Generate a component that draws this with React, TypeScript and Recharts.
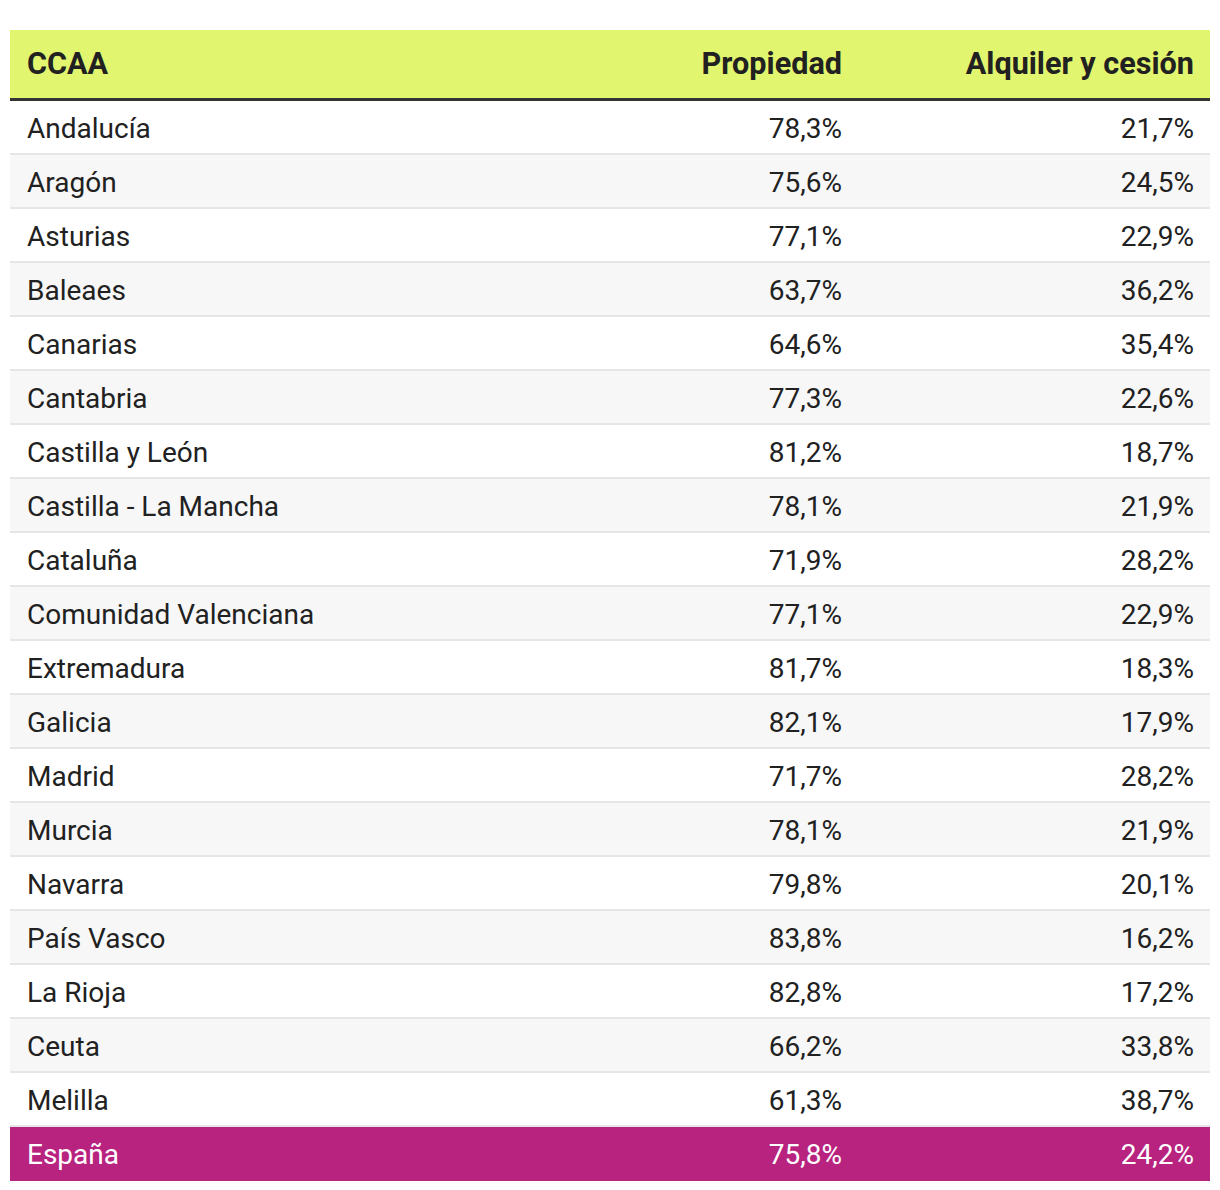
import React from "react";
import { BarChart, Bar, XAxis, YAxis } from "recharts";

const categories = [
  "Andalucía", "Aragón", "Asturias", "Baleaes", "Canarias", "Cantabria",
  "Castilla y León", "Castilla - La Mancha", "Cataluña", "Comunidad Valenciana",
  "Extremadura", "Galicia", "Madrid", "Murcia", "Navarra", "País Vasco",
  "La Rioja", "Ceuta", "Melilla", "España",
];
const propiedad = [78.3, 75.6, 77.1, 63.7, 64.6, 77.3, 81.2, 78.1, 71.9, 77.1, 81.7, 82.1, 71.7, 78.1, 79.8, 83.8, 82.8, 66.2, 61.3, 75.8];
const alquiler = [21.7, 24.5, 22.9, 36.2, 35.4, 22.6, 18.7, 21.9, 28.2, 22.9, 18.3, 17.9, 28.2, 21.9, 20.1, 16.2, 17.2, 33.8, 38.7, 24.2];
const headers = ["CCAA", "Propiedad", "Alquiler y cesión"];
const totalLabel = "España";

const data = categories.map((name, i) => ({
  name,
  propiedad: propiedad[i],
  alquiler: alquiler[i],
  full: 100,
}));

const W = 1204;
const H = 1180;
const M = { top: 93, right: 2, bottom: 7, left: 2 };
const LEFT = M.left;
const RIGHT = W - M.right;
const COL1_X = LEFT + 17;
const COL2_X = 834;
const COL3_X = RIGHT - 16;
const FONT = "Roboto, 'Noto Sans', sans-serif";
const FS = 28;
const HFS = 30.6;
const TEXT = "#212121";
const MAGENTA = "#b7237f";
const HEADER_BG = "#e1f56e";

const fmt = (v: number) => v.toFixed(1).replace(".", ",") + "%";

const RowShape = (props: any) => {
  const { y, height, payload, index } = props;
  const isTotal = payload.name === totalLabel;
  const bg = isTotal ? MAGENTA : index % 2 === 0 ? "#ffffff" : "#f7f7f7";
  const color = isTotal ? "#ffffff" : TEXT;
  const cy = y + height / 2;
  return (
    <g>
      <rect x={LEFT} y={y} width={RIGHT - LEFT} height={height} fill={bg} />
      {!isTotal && (
        <rect x={LEFT} y={y + height - 2} width={RIGHT - LEFT} height={2} fill="#e6e6e6" />
      )}
      <text x={COL1_X} y={cy} dominantBaseline="central" fill={color} fontSize={FS} fontFamily={FONT}>
        {payload.name}
      </text>
      <text x={COL2_X} y={cy} dominantBaseline="central" textAnchor="end" fill={color} fontSize={FS} fontFamily={FONT}>
        {fmt(payload.propiedad)}
      </text>
      <text x={COL3_X} y={cy} dominantBaseline="central" textAnchor="end" fill={color} fontSize={FS} fontFamily={FONT}>
        {fmt(payload.alquiler)}
      </text>
    </g>
  );
};

export default function App() {
  const headerTop = 22;
  const headerBottom = 90;
  const hcy = (headerTop + headerBottom) / 2 - 1;
  return (
    <div style={{ width: W, height: H }}>
      <BarChart
        width={W}
        height={H}
        data={data}
        layout="vertical"
        margin={M}
        barCategoryGap={0}
        barGap={0}
      >
        <XAxis type="number" domain={[0, 100]} hide />
        <YAxis type="category" dataKey="name" hide />
        <Bar dataKey="full" isAnimationActive={false} shape={RowShape} />
        <g>
          <rect x={LEFT} y={headerTop} width={RIGHT - LEFT} height={headerBottom - headerTop} fill={HEADER_BG} />
          <rect x={LEFT} y={headerBottom} width={RIGHT - LEFT} height={3} fill="#333333" />
          <text x={COL1_X} y={hcy} dominantBaseline="central" fill={TEXT} fontSize={HFS} fontWeight="bold" fontFamily={FONT}>
            {headers[0]}
          </text>
          <text x={COL2_X} y={hcy} dominantBaseline="central" textAnchor="end" fill={TEXT} fontSize={HFS} fontWeight="bold" fontFamily={FONT}>
            {headers[1]}
          </text>
          <text x={COL3_X} y={hcy} dominantBaseline="central" textAnchor="end" fill={TEXT} fontSize={HFS} fontWeight="bold" fontFamily={FONT}>
            {headers[2]}
          </text>
        </g>
      </BarChart>
    </div>
  );
}
